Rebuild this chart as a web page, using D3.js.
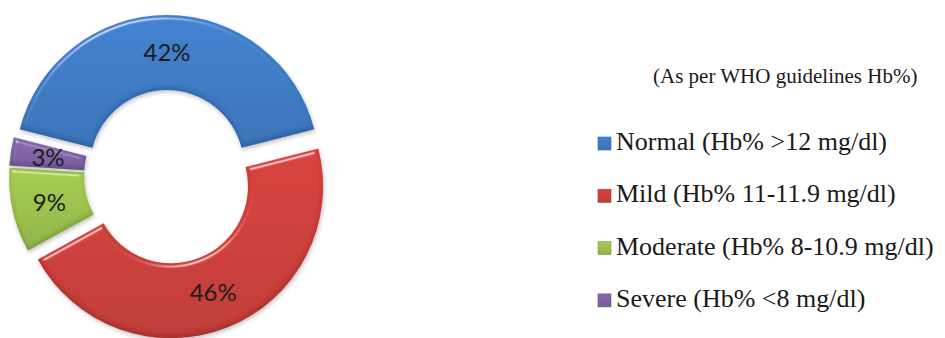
<!DOCTYPE html>
<html>
<head>
<meta charset="utf-8">
<script src="https://cdn.jsdelivr.net/npm/d3@7"></script>
<style>
  body { margin: 0; background: #fff; }
  svg { display: block; }
  .slice-label { font-family: Lato, "Open Sans", sans-serif; font-size: 24px; fill: #1c1c1c; }
  .legend-title { font-family: "Liberation Serif", "Times New Roman", serif; font-size: 21px; fill: #1a1a1a; }
  .legend-label { font-family: "Liberation Serif", "Times New Roman", serif; font-size: 26px; fill: #1a1a1a; }
</style>
</head>
<body>
<svg id="chart"></svg>
<script>
// data
const categories = ['Normal (Hb% >12 mg/dl)', 'Mild (Hb% 11-11.9 mg/dl)', 'Moderate (Hb% 8-10.9 mg/dl)', 'Severe (Hb% <8 mg/dl)'];
const values = [42, 46, 9, 3];
const legendTitle = '(As per WHO guidelines Hb%)';

// styles
const colors = ['#3e7bc5', '#cd3f3b', '#9cc14c', '#8064a5'];
const explode = [9, 11, 6, 6];

const config = {
  width: 945, height: 338,
  cx: 167, cy: 176,
  innerRadius: 77, outerRadius: 152,
  legendX: 598, legendY: 150, legendStep: 52.3, legendTitleX: 653, legendTitleY: 83
};

const svg = d3.select('#chart')
    .attr('width', config.width)
    .attr('height', config.height);

const defs = svg.append('defs');

// bevel look: light edge on top, dark edge at bottom, small drop shadow
const bevel = defs.append('filter')
    .attr('id', 'bevel')
    .attr('x', '-10%').attr('y', '-10%')
    .attr('width', '120%').attr('height', '120%');
bevel.append('feGaussianBlur')
    .attr('in', 'SourceAlpha').attr('stdDeviation', 2.2).attr('result', 'blur');
const spec = bevel.append('feSpecularLighting')
    .attr('in', 'blur')
    .attr('surfaceScale', 4)
    .attr('specularConstant', 0.9)
    .attr('specularExponent', 40)
    .attr('lighting-color', '#ffffff')
    .attr('result', 'spec');
spec.append('feDistantLight').attr('azimuth', 250).attr('elevation', 35);
bevel.append('feComposite')
    .attr('in', 'spec').attr('in2', 'SourceAlpha')
    .attr('operator', 'in').attr('result', 'specOut');
bevel.append('feOffset')
    .attr('in', 'blur').attr('dx', 0).attr('dy', -3).attr('result', 'shifted');
bevel.append('feComposite')
    .attr('in', 'SourceAlpha').attr('in2', 'shifted')
    .attr('operator', 'out').attr('result', 'edge');
bevel.append('feFlood')
    .attr('flood-color', '#000').attr('flood-opacity', 0.3).attr('result', 'dark');
bevel.append('feComposite')
    .attr('in', 'dark').attr('in2', 'edge')
    .attr('operator', 'in').attr('result', 'innerShadow');
bevel.append('feOffset')
    .attr('in', 'blur').attr('dx', 1).attr('dy', 2).attr('result', 'dropOff');
bevel.append('feComponentTransfer')
    .attr('in', 'dropOff').attr('result', 'drop')
  .append('feFuncA').attr('type', 'linear').attr('slope', 0.25);
const merge = bevel.append('feMerge').attr('result', 'merged');
merge.append('feMergeNode').attr('in', 'drop');
merge.append('feMergeNode').attr('in', 'SourceGraphic');
merge.append('feMergeNode').attr('in', 'innerShadow');
bevel.append('feComposite')
    .attr('in', 'merged').attr('in2', 'specOut')
    .attr('operator', 'arithmetic')
    .attr('k1', 0).attr('k2', 1).attr('k3', 0.6).attr('k4', 0);

// subtle vertical gradients for each colour
colors.forEach((c, i) => {
  const g = defs.append('linearGradient')
      .attr('id', `grad-${i}`)
      .attr('x1', 0).attr('y1', 0).attr('x2', 0).attr('y2', 1);
  g.append('stop').attr('offset', '0%').attr('stop-color', d3.color(c).brighter(0.15));
  g.append('stop').attr('offset', '50%').attr('stop-color', c);
  g.append('stop').attr('offset', '100%').attr('stop-color', d3.color(c).darker(0.2));
});

const total = d3.sum(values);
const start = -values[0] / total * Math.PI;   // first slice centred at the top

const pie = d3.pie()
    .sort(null)
    .startAngle(start)
    .endAngle(start + 2 * Math.PI);

const arc = d3.arc()
    .innerRadius(config.innerRadius)
    .outerRadius(config.outerRadius);

const labelArc = d3.arc()
    .innerRadius((config.innerRadius + config.outerRadius) / 2)
    .outerRadius((config.innerRadius + config.outerRadius) / 2);

const arcs = pie(values);

const chart = svg.append('g')
    .attr('transform', `translate(${config.cx},${config.cy})`);

const slice = chart.selectAll('.slice')
    .data(arcs)
  .join('g')
    .attr('class', 'slice')
    .attr('transform', (d, i) => {
      const mid = (d.startAngle + d.endAngle) / 2;
      return `translate(${Math.sin(mid) * explode[i]},${-Math.cos(mid) * explode[i]})`;
    });

slice.append('path')
    .attr('d', arc)
    .attr('fill', (d, i) => `url(#grad-${i})`)
    .attr('filter', 'url(#bevel)');

slice.append('text')
    .attr('class', 'slice-label')
    .attr('transform', d => `translate(${labelArc.centroid(d)})`)
    .attr('text-anchor', 'middle')
    .attr('dy', '0.35em')
    .text(d => `${d.value}%`);

// legend
svg.append('text')
    .attr('class', 'legend-title')
    .attr('x', config.legendTitleX)
    .attr('y', config.legendTitleY)
    .text(legendTitle);

const legend = svg.selectAll('.legend-item')
    .data(categories)
  .join('g')
    .attr('class', 'legend-item')
    .attr('transform', (d, i) => `translate(${config.legendX},${config.legendY + i * config.legendStep})`);

legend.append('rect')
    .attr('x', 0).attr('y', -13)
    .attr('width', 13).attr('height', 13)
    .attr('fill', (d, i) => `url(#grad-${i})`)
    .attr('stroke', (d, i) => d3.color(colors[i]).darker(0.6))
    .attr('stroke-width', 0.6);

legend.append('text')
    .attr('class', 'legend-label')
    .attr('x', 18)
    .attr('y', 0)
    .text(d => d);
</script>
</body>
</html>
